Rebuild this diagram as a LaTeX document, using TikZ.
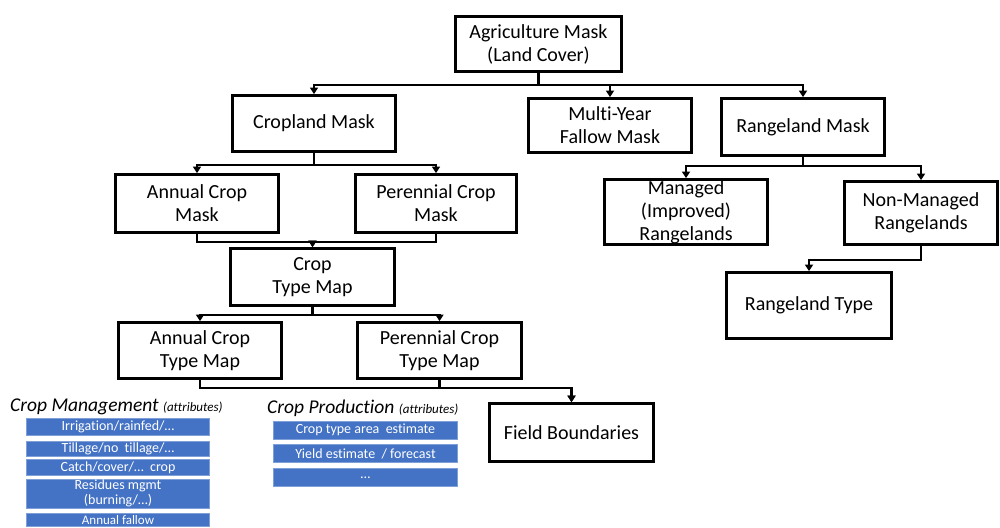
\documentclass[tikz,border=0pt]{standalone}
\usepackage{fontspec}
\setmainfont{Carlito}[Ligatures=NoCommon]
\usetikzlibrary{arrows.meta}
\definecolor{attrblue}{HTML}{4472C4}
\definecolor{attrline}{HTML}{7F9FD8}
\tikzset{
  box/.style={draw, line width=2.8pt, align=center, inner sep=0pt,
    font=\fontsize{20}{23}\selectfont, text=black},
  attr/.style={draw=attrline, line width=0.8pt, fill=attrblue, text=white,
    align=center, inner sep=0pt, minimum width=183pt, font=\fontsize{14}{15}\selectfont},
  conn/.style={line width=2.2pt, -{Triangle[length=6.5pt,width=8pt]}},
  hdr/.style={anchor=base west, inner sep=0pt, font=\fontsize{19.5}{22}\selectfont\itshape, text=black},
}
\begin{document}
\begin{tikzpicture}[x=1pt,y=-1pt]
\useasboundingbox (0,0) rectangle (1000,527);
\fill[white] (0,0) rectangle (1000,527);

% main boxes
\node[box, minimum width=166pt, minimum height=55pt] (agri) at (538.5,44) {Agriculture Mask\\(Land Cover)};
\node[box, minimum width=163pt, minimum height=56pt] (crop) at (314,123.5) {Cropland Mask};
\node[box, minimum width=163pt, minimum height=54pt] (fallow) at (610,125.5) {Multi-Year\\Fallow Mask};
\node[box, minimum width=163pt, minimum height=57pt] (range) at (803,127) {Rangeland Mask};
\node[box, minimum width=163pt, minimum height=65pt] (managed) at (686,212) {Managed\\(Improved)\\Rangelands};
\node[box, minimum width=153pt, minimum height=63pt] (nonman) at (921,213) {Non-Managed\\Rangelands};
\node[box, minimum width=165pt, minimum height=66pt] (rtype) at (809,305.5) {Rangeland Type};
\node[box, minimum width=163pt, minimum height=58pt] (acm) at (197,203.5) {Annual Crop\\Mask};
\node[box, minimum width=161pt, minimum height=58pt] (pcm) at (436,203.5) {Perennial Crop\\Mask};
\node[box, minimum width=164pt, minimum height=57pt] (ctm) at (312.5,277) {Crop\\Type Map};
\node[box, minimum width=163pt, minimum height=56pt] (actm) at (200,350.5) {Annual Crop\\Type Map};
\node[box, minimum width=164pt, minimum height=56pt] (pctm) at (439.5,350.5) {Perennial Crop\\Type Map};
\node[box, minimum width=164pt, minimum height=58pt] (fb) at (571.5,432.5) {Field Boundaries};

% bus coordinates
\coordinate (b1) at (0,85);
\coordinate (b2) at (0,165);
\coordinate (b3) at (0,166);
\coordinate (b4) at (0,242);
\coordinate (b5) at (0,315);
\coordinate (b6) at (0,388);
\coordinate (b7) at (0,260);

% connectors
\draw[conn] (agri.south) -- (agri.south |- b1) -| (crop.north);
\draw[conn] (agri.south |- b1) -| (fallow.north);
\draw[conn] (agri.south |- b1) -| (range.north);

\draw[conn] (crop.south) -- (crop.south |- b2) -| (acm.north);
\draw[conn] (crop.south |- b2) -| (pcm.north);

\draw[conn] (acm.south) -- (acm.south |- b4) -| (ctm.north);
\draw[conn] (pcm.south) -- (pcm.south |- b4) -| (ctm.north);

\draw[conn] (ctm.south) -- (ctm.south |- b5) -| (actm.north);
\draw[conn] (ctm.south |- b5) -| (pctm.north);

\draw[conn] (actm.south) -- (actm.south |- b6) -| (fb.north);
\draw[conn] (pctm.south) -- (pctm.south |- b6) -| (fb.north);

\draw[conn] (range.south) -- (range.south |- b3) -| (managed.north);
\draw[conn] (range.south |- b3) -| (nonman.north);

\draw[conn] (nonman.south) -- (nonman.south |- b7) -| (rtype.north);

% attribute headers
\node[hdr] (cmhdr) at (10,411) {Crop Management {\fontsize{13}{13}\selectfont(attributes)}};
\node[hdr] (cphdr) at (267,413) {Crop Production {\fontsize{13}{13}\selectfont(attributes)}};

% crop management attributes
\node[attr, minimum height=17pt] (m1) at (118,427) {Irrigation/rainfed/…};
\node[attr, minimum height=15pt] (m2) at (118,448.5) {Tillage/no\ \ tillage/…};
\node[attr, minimum height=16pt] (m3) at (118,467.5) {Catch/cover/…\ \ crop};
\node[attr, minimum height=29pt] (m4) at (118,493.5) {Residues mgmt\\(burning/…)};
\node[attr, minimum height=13pt, font=\fontsize{13}{13}\selectfont] (m5) at (118,520) {Annual fallow};

% crop production attributes
\node[attr, minimum width=184pt, minimum height=18pt] (p1) at (365.5,430) {Crop type area\ \ estimate};
\node[attr, minimum width=184pt, minimum height=18pt] (p2) at (365.5,453.5) {Yield estimate\ \ / forecast};
\node[attr, minimum width=184pt, minimum height=18pt] (p3) at (365.5,477.5) {…};
\end{tikzpicture}
\end{document}
